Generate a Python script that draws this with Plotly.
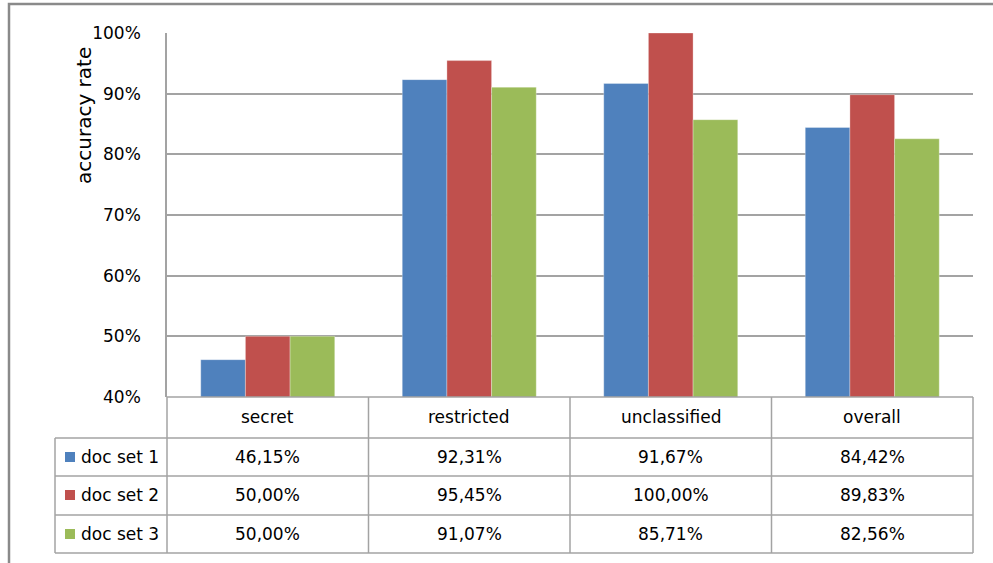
import plotly.graph_objects as go

categories = ["secret", "restricted", "unclassified", "overall"]
series_names = ["doc set 1", "doc set 2", "doc set 3"]
doc_set_1 = [46.15, 92.31, 91.67, 84.42]
doc_set_2 = [50.00, 95.45, 100.00, 89.83]
doc_set_3 = [50.00, 91.07, 85.71, 82.56]
series_values = [doc_set_1, doc_set_2, doc_set_3]
colors = ["#4F81BD", "#C0504D", "#9BBB59"]
y_ticks = [40, 50, 60, 70, 80, 90, 100]

W, H = 993, 563
L, R, T, B = 167, 20, 33, 166
PW = W - L - R
PH = H - T - B
FONT = "DejaVu Sans"
FS = 17

def px(x):
    return (x - L) / PW

def py(y):
    return (H - B - y) / PH

fig = go.Figure()
for name, vals, col in zip(series_names, series_values, colors):
    fig.add_trace(go.Bar(x=categories, y=vals, name=name, marker_color=col,
                         marker_line_width=0.6, marker_line_color="rgba(255,255,255,0.5)"))

shapes = []
annotations = []
grid = "#a3a3a3"

# outer chart border
shapes.append(dict(type="rect", xref="paper", yref="paper", x0=px(9), x1=px(1005),
                   y0=py(575), y1=py(4), line=dict(color="#8a8a8a", width=2.5)))

# data table lines
col_w = PW / len(categories)
row_y = [397, 438, 476, 515, 553]
for k in range(len(categories) + 1):
    xk = L + k * col_w
    shapes.append(dict(type="line", xref="paper", yref="paper", x0=px(xk), x1=px(xk),
                       y0=py(397), y1=py(553), line=dict(color=grid, width=1.5)))
shapes.append(dict(type="line", xref="paper", yref="paper", x0=px(55), x1=px(55),
                   y0=py(438), y1=py(553), line=dict(color=grid, width=1.5)))
for yy in row_y[1:]:
    shapes.append(dict(type="line", xref="paper", yref="paper", x0=px(55), x1=px(L + PW),
                       y0=py(yy), y1=py(yy), line=dict(color=grid, width=1.5)))
shapes.append(dict(type="line", xref="paper", yref="paper", x0=0, x1=1,
                   y0=0, y1=0, line=dict(color=grid, width=1.5)))

# header texts
for c in categories:
    annotations.append(dict(x=c, xref="x", y=py(417), yref="paper", text=c, showarrow=False,
                            font=dict(family=FONT, size=FS, color="#000"), xanchor="center", yanchor="middle"))

# rows
row_centers = [457, 495, 534]
for name, vals, col, yc in zip(series_names, series_values, colors, row_centers):
    shapes.append(dict(type="rect", xref="paper", yref="paper", x0=px(65), x1=px(75),
                       y0=py(yc + 5), y1=py(yc - 5), fillcolor=col, line=dict(width=0)))
    annotations.append(dict(x=px(79), xref="paper", y=py(yc), yref="paper", text=name, showarrow=False,
                            font=dict(family=FONT, size=FS, color="#000"), xanchor="left", yanchor="middle"))
    for c, v in zip(categories, vals):
        txt = f"{v:.2f}%".replace(".", ",")
        annotations.append(dict(x=c, xref="x", y=py(yc), yref="paper", text=txt, showarrow=False,
                                font=dict(family=FONT, size=FS, color="#000"), xanchor="center", yanchor="middle"))

# y axis title
annotations.append(dict(x=px(84), xref="paper", y=py(116), yref="paper", text="accuracy rate",
                        showarrow=False, textangle=-90,
                        font=dict(family=FONT, size=20, color="#000"), xanchor="center", yanchor="middle"))

fig.update_layout(
    width=W, height=H,
    margin=dict(l=L, r=R, t=T, b=B),
    paper_bgcolor="white", plot_bgcolor="white",
    barmode="group", bargap=0.335, bargroupgap=0,
    showlegend=False,
    shapes=shapes, annotations=annotations,
    font=dict(family=FONT, color="#000"),
)
fig.update_xaxes(showticklabels=False, showgrid=False, showline=False, zeroline=False)
fig.update_yaxes(range=[40, 100], tickvals=y_ticks, ticktext=[f"{v}%" for v in y_ticks],
                 showgrid=True, gridcolor=grid, gridwidth=1.5,
                 showline=True, linecolor=grid, linewidth=1.5, zeroline=False,
                 ticks="", ticklabelstandoff=21,
                 tickfont=dict(family=FONT, size=FS, color="#000"))

fig.write_html("out.html")
